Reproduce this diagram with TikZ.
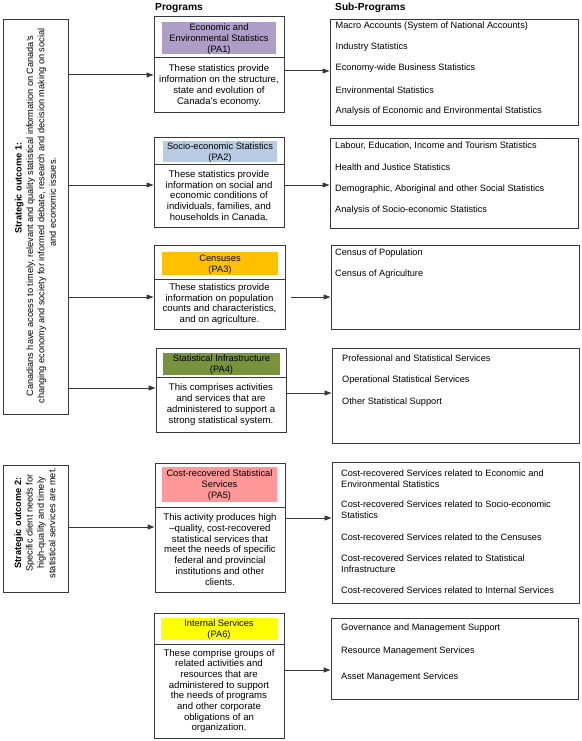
\documentclass[tikz,border=0pt]{standalone}
\usepackage{fontspec}
\setmainfont{Liberation Sans}
\usetikzlibrary{arrows.meta}
\definecolor{cPAone}{RGB}{174,157,199}
\definecolor{cPAtwo}{RGB}{184,204,228}
\definecolor{cPAthree}{RGB}{255,192,0}
\definecolor{cPAfour}{RGB}{119,147,60}
\definecolor{cPAfive}{RGB}{255,153,153}
\definecolor{cPAsix}{RGB}{255,255,0}
\begin{document}
\begin{tikzpicture}[x=1pt,y=-1pt,
  bx/.style={draw=black!78, line width=1pt, inner sep=0pt},
  hd/.style={fill=#1, inner sep=0pt, align=center, font=\fontsize{9.3}{11}\selectfont},
  ds/.style={align=center, inner sep=0pt, font=\fontsize{9.6}{10.7}\selectfont},
  it/.style={anchor=west, align=left, inner sep=0pt, font=\fontsize{9.2}{11}\selectfont},
  ttl/.style={anchor=west, inner sep=0pt, font=\bfseries\fontsize{10.2}{12}\selectfont},
  so/.style={rotate=90, align=center, inner sep=0pt, font=\fontsize{9.2}{11.4}\selectfont},
  arr/.style={draw=black!78, line width=1pt, -{Triangle[length=7pt,width=5pt]}},
]
\useasboundingbox (0,0) rectangle (581,741);
\fill[white] (0,0) rectangle (581,741);

% column titles
\node[ttl] (tprog) at (155,8) {Programs};
\node[ttl] (tsub) at (335,8) {Sub-Programs};

% strategic outcomes
\node[bx, minimum width=65pt, minimum height=394pt] (so1) at (35.5,217) {};
\node[so] (so1t) at (35.5,216) {\hspace*{56pt}\textbf{Strategic outcome 1:}\\
Canadians have access to timely, relevant and quality statistical information on Canada's\\
changing economy and society for informed debate, research and decision making on social\\
\hspace*{28pt}and economic issues.};
\node[bx, minimum width=65pt, minimum height=127pt] (so2) at (35.5,528.5) {};
\node[so] (so2t) at (35,523) {\textbf{Strategic outcome 2:}\\
Specific client needs for\\
high-quality and timely\\
statistical services are met.};

% PA1
\node[bx, minimum width=130pt, minimum height=41pt] (pa1h) at (219,37.5) {};
\node[hd=cPAone, minimum width=114pt, minimum height=32pt] (pa1c) at (219,38) {\rule{0pt}{8pt}Economic and\\Environmental Statistics\\(PA1)};
\node[bx, ds, minimum width=130pt, minimum height=55pt] (pa1d) at (219,85.5) {These statistics provide\\information on the structure,\\state and evolution of\\Canada's economy.};

% PA2
\node[bx, minimum width=130pt, minimum height=27pt] (pa2h) at (219,150.5) {};
\node[hd=cPAtwo, minimum width=114pt, minimum height=21pt] (pa2c) at (220,151.5) {\rule{0pt}{8pt}Socio-economic Statistics\\(PA2)};
\node[bx, ds, minimum width=130pt, minimum height=63pt] (pa2d) at (219,195.5) {These statistics provide\\information on social and\\economic conditions of\\individuals, families, and\\households in Canada.};

% PA3
\node[bx, minimum width=131pt, minimum height=34pt] (pa3h) at (219.5,262) {};
\node[hd=cPAthree, minimum width=116pt, minimum height=23pt] (pa3c) at (220,263.5) {\rule{0pt}{8pt}Censuses\\(PA3)};
\node[bx, ds, minimum width=131pt, minimum height=50pt] (pa3d) at (219.5,304) {These statistics provide\\information on population\\counts and characteristics,\\and on agriculture.};

% PA4
\node[bx, minimum width=130pt, minimum height=29pt] (pa4h) at (221,362.5) {};
\node[hd=cPAfour, minimum width=117pt, minimum height=22pt] (pa4c) at (221.5,364) {\rule{0pt}{8pt}Statistical Infrastructure\\(PA4)};
\node[bx, ds, minimum width=130pt, minimum height=55pt] (pa4d) at (221,404.5) {This comprises activities\\and services that are\\administered to support a\\strong statistical system.};

% PA5
\node[bx, minimum width=130pt, minimum height=44pt] (pa5h) at (220,485) {};
\node[hd=cPAfive, minimum width=115pt, minimum height=35pt] (pa5c) at (219.5,484.5) {\rule{0pt}{8pt}Cost-recovered Statistical\\Services\\(PA5)};
\node[bx, ds, minimum width=130pt, minimum height=85pt] (pa5d) at (220,549.5) {This activity produces high\\–quality, cost-recovered\\statistical services that\\meet the needs of specific\\federal and provincial\\institutions and other\\clients.};

% PA6
\node[bx, minimum width=130pt, minimum height=31pt] (pa6h) at (219,628.5) {};
\node[hd=cPAsix, minimum width=116pt, minimum height=22pt] (pa6c) at (219,629) {\rule{0pt}{8pt}Internal Services\\(PA6)};
\node[bx, ds, minimum width=130pt, minimum height=94pt] (pa6d) at (219,691) {These comprise groups of\\related activities and\\resources that are\\administered to support\\the needs of programs\\and other corporate\\obligations of an\\organization.};

% sub-program boxes
\node[bx, minimum width=248pt, minimum height=106pt] (sub1) at (454,73) {};
\node[it] (s1a) at (335.5,26) {Macro Accounts (System of National Accounts)};
\node[it] (s1b) at (335.5,47) {Industry Statistics};
\node[it] (s1c) at (335.5,68.5) {Economy-wide Business Statistics};
\node[it] (s1d) at (335.5,90) {Environmental Statistics};
\node[it] (s1e) at (335.5,111.5) {Analysis of Economic and Environmental Statistics};

\node[bx, minimum width=248pt, minimum height=90pt] (sub2) at (454,183) {};
\node[it] (s2a) at (335,146) {Labour, Education, Income and Tourism Statistics};
\node[it] (s2b) at (335,167.5) {Health and Justice Statistics};
\node[it] (s2c) at (335,189) {Demographic, Aboriginal and other Social Statistics};
\node[it] (s2d) at (335,210.5) {Analysis of Socio-economic Statistics};

\node[bx, minimum width=248pt, minimum height=84pt] (sub3) at (455,287) {};
\node[it] (s3a) at (335,253) {Census of Population};
\node[it] (s3b) at (335,274) {Census of Agriculture};

\node[bx, minimum width=247pt, minimum height=95pt] (sub4) at (455.5,395.5) {};
\node[it] (s4a) at (342,358) {Professional and Statistical Services};
\node[it] (s4b) at (342,380) {Operational Statistical Services};
\node[it] (s4c) at (342,402) {Other Statistical Support};

\node[bx, minimum width=247pt, minimum height=141pt] (sub5) at (455.5,532.5) {};
\node[it] (s5a) at (341,478.5) {Cost-recovered Services related to Economic and\\Environmental Statistics};
\node[it] (s5b) at (341,510) {Cost-recovered Services related to Socio-economic\\Statistics};
\node[it] (s5c) at (341,537) {Cost-recovered Services related to the Censuses};
\node[it] (s5d) at (341,563.5) {Cost-recovered Services related to Statistical\\Infrastructure};
\node[it] (s5e) at (341,590) {Cost-recovered Services related to Internal Services};

\node[bx, minimum width=247pt, minimum height=81pt] (sub6) at (454.5,658.5) {};
\node[it] (s6a) at (341,628) {Governance and Management Support};
\node[it] (s6b) at (341,651) {Resource Management Services};
\node[it] (s6c) at (341,677) {Asset Management Services};

% connector heights
\coordinate (y1) at (0,75);
\coordinate (y2) at (0,185);
\coordinate (y3) at (0,297);
\coordinate (y4) at (0,388);
\coordinate (y5) at (0,527);
\coordinate (z1) at (0,71);
\coordinate (z2) at (0,185);
\coordinate (z3) at (0,297);
\coordinate (z4) at (0,393);
\coordinate (z5) at (0,518);
\coordinate (z6) at (0,670);
\coordinate (p3s) at ([xshift=5pt]pa3d.east);

% connectors
\draw[arr] (so1.east |- y1) -- (pa1d.west |- y1);
\draw[arr] (so1.east |- y2) -- (pa2d.west |- y2);
\draw[arr] (so1.east |- y3) -- (pa3d.west |- y3);
\draw[arr] (so1.east |- y4) -- (pa4d.west |- y4);
\draw[arr] (so2.east |- y5) -- (pa5d.west |- y5);

\draw[arr] (pa1d.east |- z1) -- (sub1.west |- z1);
\draw[arr] (pa2d.east |- z2) -- (sub2.west |- z2);
\draw[arr] (p3s |- z3) -- (sub3.west |- z3);
\draw[arr] (pa4d.east |- z4) -- (sub4.west |- z4);
\draw[arr] (pa5d.east |- z5) -- (sub5.west |- z5);
\draw[arr] (pa6d.east |- z6) -- (sub6.west |- z6);
\end{tikzpicture}
\end{document}
